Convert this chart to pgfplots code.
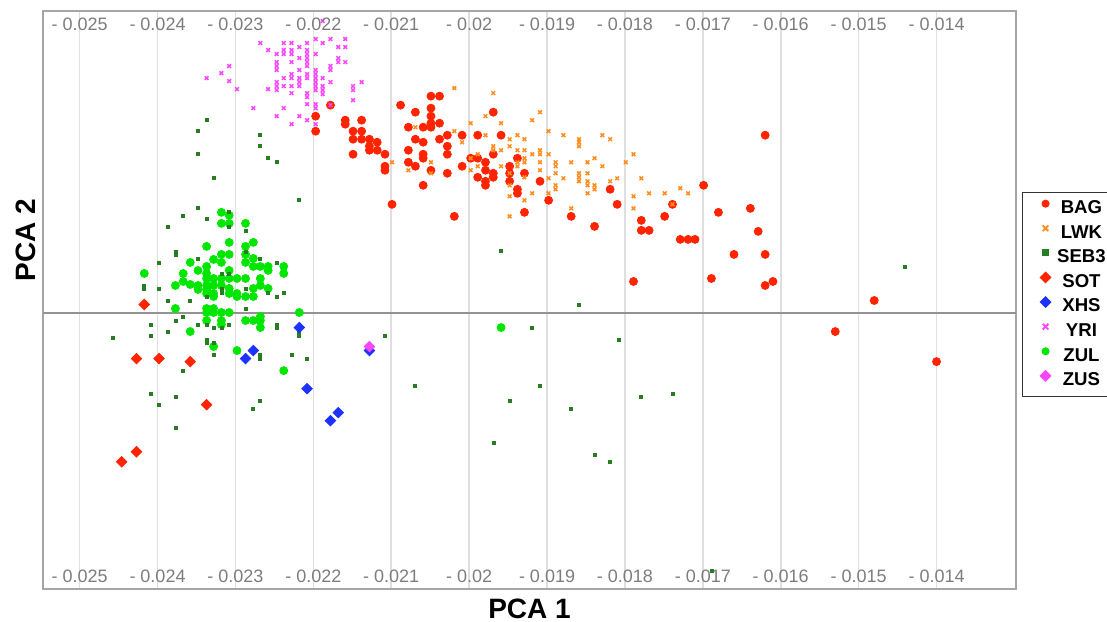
\documentclass[border=0pt]{standalone}
\usepackage{fontspec}
\setmainfont{Liberation Sans}
\usepackage{pgfplots}
\pgfplotsset{compat=1.18}

\definecolor{bagred}{RGB}{255,35,0}
\definecolor{lwkorange}{RGB}{255,140,30}
\definecolor{sebgreen}{RGB}{40,125,35}
\definecolor{xhsblue}{RGB}{30,50,255}
\definecolor{yrimag}{RGB}{250,70,250}
\definecolor{zulgreen}{RGB}{0,230,0}
\definecolor{tickgray}{RGB}{125,125,125}

\pgfplotsset{
  pcabox/.style={
    at={(21.5pt,16pt)}, anchor=south west,
    scale only axis, width=486.5pt, height=289pt,
    xmin=-0.02547, xmax=-0.01298, ymin=-0.0276, ymax=0.0301,
    scaled x ticks=false, scaled y ticks=false,
    xtick={-0.025,-0.024,-0.023,-0.022,-0.021,-0.02,-0.019,-0.018,-0.017,-0.016,-0.015,-0.014},
    xticklabels={- 0.025,- 0.024,- 0.023,- 0.022,- 0.021,- 0.02,- 0.019,- 0.018,- 0.017,- 0.016,- 0.015,- 0.014},
    ytick=\empty,
    major tick length=0pt,
    tick style={draw=none},
    xticklabel style={font=\fontsize{9}{10}\selectfont, text=tickgray, anchor=base},
  },
  dots/.style={only marks, forget plot},
}

\begin{document}
\begin{tikzpicture}
\useasboundingbox (0,0) rectangle (553.5pt,310.5pt);

\begin{axis}[
    pcabox,
    axis line style={draw=gray!70, line width=0.75pt},
    xmajorgrids=true,
    major grid style={draw=gray!25, line width=0.75pt},
    extra y ticks={0},
    extra y tick labels={},
    extra y tick style={grid=major, major grid style={draw=gray!85, line width=1pt}},
    xticklabel style={yshift=3.5pt},
    xlabel={PCA 1},
    ylabel={PCA 2},
    label style={font=\fontsize{14}{16}\selectfont\bfseries},
    xlabel style={at={(axis description cs:0.5,-0.0502)}, anchor=base},
    ylabel style={at={(axis description cs:-0.0072,0.604)}, rotate=0, anchor=base},
    legend style={at={(1.00617,0.6874)}, anchor=north west,
      draw=black!80, line width=0.5pt, fill=white,
      inner xsep=8.9pt, inner ysep=2pt, row sep=0pt, column sep=1.2pt,
      font=\fontsize{9.3}{11}\selectfont\bfseries,
      nodes={inner sep=2pt, text height=6.7pt, text depth=1.6pt}},
    legend cell align=center,
    legend image code/.code={\draw[#1] plot coordinates {(0pt,2.4pt)};},
  ]

% BAG
\addplot[dots, mark=*, mark size=2pt, mark options={draw=bagred, fill=bagred}] coordinates {
(-0.02197,0.0196) (-0.02197,0.0181) (-0.02178,0.0207) (-0.02159,0.0192) (-0.02159,0.0188)
(-0.02138,0.0192) (-0.02149,0.0181) (-0.02138,0.0181) (-0.02149,0.0173) (-0.02138,0.0173)
(-0.02128,0.0173) (-0.02128,0.0166) (-0.02128,0.0162) (-0.02118,0.0170) (-0.02118,0.0162)
(-0.02108,0.0158) (-0.02108,0.0146) (-0.02108,0.0142) (-0.02149,0.0158) (-0.02099,0.0108)
(-0.02088,0.0207) (-0.02069,0.0200) (-0.02049,0.0216) (-0.02038,0.0216) (-0.02049,0.0204)
(-0.02049,0.0196) (-0.02049,0.0189) (-0.02049,0.0185) (-0.02059,0.0185) (-0.02038,0.0189)
(-0.02078,0.0185) (-0.02069,0.0173) (-0.02059,0.0170) (-0.02038,0.0173) (-0.02028,0.0177)
(-0.02028,0.0166) (-0.02028,0.0158) (-0.02078,0.0162) (-0.02059,0.0158) (-0.02059,0.0154)
(-0.02078,0.0150) (-0.02069,0.0146) (-0.02049,0.0142) (-0.02028,0.0139) (-0.02059,0.0127)
(-0.02019,0.0096) (-0.02009,0.0177) (-0.02009,0.0146) (-0.01998,0.0154) (-0.01989,0.0177)
(-0.01989,0.0154) (-0.01989,0.0135) (-0.01979,0.0150) (-0.01979,0.0142) (-0.01979,0.0131)
(-0.01979,0.0127) (-0.01969,0.0200) (-0.01959,0.0177) (-0.01969,0.0158) (-0.01969,0.0139)
(-0.01969,0.0135) (-0.01948,0.0146) (-0.01948,0.0139) (-0.01948,0.0131) (-0.01938,0.0123)
(-0.01938,0.0119) (-0.01929,0.0139) (-0.01929,0.0100) (-0.01938,0.0154) (-0.01909,0.0131)
(-0.01898,0.0112) (-0.01869,0.0096) (-0.01839,0.0086) (-0.01819,0.0123) (-0.01810,0.0108)
(-0.01779,0.0092) (-0.01779,0.0082) (-0.01769,0.0082) (-0.01749,0.0096) (-0.01739,0.0108)
(-0.01699,0.0127) (-0.01680,0.0100) (-0.01620,0.0177) (-0.01789,0.0031) (-0.01729,0.0073)
(-0.01719,0.0073) (-0.01710,0.0073) (-0.01689,0.0034) (-0.01660,0.0058) (-0.01639,0.0104)
(-0.01629,0.0081) (-0.01620,0.0058) (-0.01620,0.0027) (-0.01610,0.0031) (-0.01480,0.0012)
(-0.01530,-0.0019) (-0.01400,-0.0049)
};

% ZUL
\addplot[dots, mark=*, mark size=2pt, mark options={draw=zulgreen, fill=zulgreen}] coordinates {
(-0.02318,0.0100) (-0.02308,0.0097) (-0.02318,0.0089) (-0.02308,0.0089) (-0.02287,0.0089)
(-0.02308,0.0070) (-0.02337,0.0066) (-0.02287,0.0066) (-0.02277,0.0070) (-0.02318,0.0058)
(-0.02308,0.0058) (-0.02328,0.0053) (-0.02318,0.0050) (-0.02287,0.0058) (-0.02287,0.0050)
(-0.02277,0.0054) (-0.02277,0.0046) (-0.02268,0.0046) (-0.02258,0.0046) (-0.02258,0.0042)
(-0.02238,0.0046) (-0.02238,0.0039) (-0.02358,0.0050) (-0.02348,0.0042) (-0.02337,0.0046)
(-0.02337,0.0039) (-0.02367,0.0039) (-0.02367,0.0031) (-0.02358,0.0028) (-0.02348,0.0027)
(-0.02348,0.0023) (-0.02337,0.0034) (-0.02337,0.0027) (-0.02337,0.0023) (-0.02337,0.0019)
(-0.02328,0.0034) (-0.02318,0.0034) (-0.02308,0.0034) (-0.02298,0.0034) (-0.02287,0.0034)
(-0.02308,0.0042) (-0.02268,0.0034) (-0.02268,0.0027) (-0.02258,0.0024) (-0.02328,0.0027)
(-0.02328,0.0019) (-0.02328,0.0016) (-0.02318,0.0027) (-0.02308,0.0024) (-0.02308,0.0019)
(-0.02298,0.0019) (-0.02298,0.0016) (-0.02287,0.0016) (-0.02277,0.0024) (-0.02277,0.0016)
(-0.02377,0.0027) (-0.02417,0.0039) (-0.02377,0.0004) (-0.02337,0.0004) (-0.02337,0.0000)
(-0.02328,0.0004) (-0.02328,0.0000) (-0.02318,0.0000) (-0.02308,0.0000) (-0.02358,-0.0019)
(-0.02337,-0.0008) (-0.02318,-0.0008) (-0.02318,-0.0012) (-0.02287,-0.0008) (-0.02277,-0.0008)
(-0.02268,-0.0004) (-0.02268,-0.0008) (-0.02268,-0.0015) (-0.02218,0.0000) (-0.02328,-0.0034)
(-0.02298,-0.0038) (-0.02238,-0.0058) (-0.01959,-0.0015)
};

% LWK
\addplot[dots, mark=x, mark size=1.3pt, mark options={draw=lwkorange, line width=0.75pt}] coordinates {
(-0.02019,0.0224) (-0.01969,0.0219) (-0.02069,0.0185) (-0.01998,0.0189) (-0.02019,0.0181)
(-0.02009,0.0170) (-0.01979,0.0196) (-0.01959,0.0189) (-0.01979,0.0177) (-0.01969,0.0166)
(-0.01969,0.0162) (-0.01959,0.0162) (-0.01948,0.0173) (-0.01948,0.0166) (-0.01938,0.0177)
(-0.01929,0.0173) (-0.01938,0.0162) (-0.01929,0.0162) (-0.01929,0.0154) (-0.01929,0.0150)
(-0.01938,0.0150) (-0.01938,0.0146) (-0.01959,0.0146) (-0.01989,0.0158) (-0.01989,0.0146)
(-0.01998,0.0142) (-0.02049,0.0150) (-0.02049,0.0139) (-0.02078,0.0142) (-0.02099,0.0150)
(-0.01948,0.0127) (-0.01948,0.0116) (-0.01929,0.0112) (-0.01948,0.0096) (-0.01998,0.0154)
(-0.01909,0.0200) (-0.01919,0.0192) (-0.01948,0.0139) (-0.01929,0.0135) (-0.01919,0.0158)
(-0.01919,0.0119) (-0.01909,0.0162) (-0.01909,0.0158) (-0.01909,0.0150) (-0.01909,0.0142)
(-0.01898,0.0181) (-0.01898,0.0158) (-0.01898,0.0134) (-0.01898,0.0119) (-0.01889,0.0150)
(-0.01889,0.0146) (-0.01889,0.0139) (-0.01889,0.0127) (-0.01889,0.0123) (-0.01879,0.0177)
(-0.01879,0.0134) (-0.01869,0.0150) (-0.01869,0.0104) (-0.01859,0.0173) (-0.01859,0.0170)
(-0.01859,0.0166) (-0.01859,0.0139) (-0.01859,0.0135) (-0.01859,0.0131) (-0.01848,0.0150)
(-0.01848,0.0139) (-0.01848,0.0131) (-0.01848,0.0127) (-0.01848,0.0119) (-0.01839,0.0154)
(-0.01839,0.0127) (-0.01839,0.0123) (-0.01829,0.0177) (-0.01829,0.0146) (-0.01819,0.0173)
(-0.01819,0.0131) (-0.01810,0.0134) (-0.01799,0.0150) (-0.01789,0.0158) (-0.01789,0.0116)
(-0.01789,0.0104) (-0.01779,0.0134) (-0.01769,0.0119) (-0.01749,0.0119) (-0.01739,0.0108)
(-0.01729,0.0124) (-0.01719,0.0119)
};

% SEB3
\addplot[dots, mark=square*, mark size=0.75pt, mark options={draw=sebgreen, fill=sebgreen}] coordinates {
(-0.02337,0.0192) (-0.02348,0.0181) (-0.02348,0.0158) (-0.02328,0.0134) (-0.02348,0.0104)
(-0.02367,0.0096) (-0.02308,0.0100) (-0.02337,0.0093) (-0.02268,0.0177) (-0.02268,0.0166)
(-0.02258,0.0154) (-0.02247,0.0150) (-0.02218,0.0112) (-0.02387,0.0085) (-0.02308,0.0085)
(-0.02287,0.0081) (-0.02377,0.0061) (-0.02377,0.0058) (-0.02398,0.0050) (-0.02348,0.0054)
(-0.02287,0.0061) (-0.02268,0.0054) (-0.02247,0.0050) (-0.02417,0.0027) (-0.02417,0.0024)
(-0.02398,0.0024) (-0.02318,0.0039) (-0.02308,0.0039) (-0.02287,0.0024) (-0.02258,0.0020)
(-0.02247,0.0016) (-0.02238,0.0020) (-0.02337,0.0016) (-0.02318,0.0024) (-0.02318,0.0020)
(-0.02387,0.0012) (-0.02358,0.0012) (-0.02287,0.0004) (-0.02377,-0.0008) (-0.02367,-0.0004)
(-0.02408,-0.0012) (-0.02408,-0.0023) (-0.02387,-0.0019) (-0.02348,-0.0012) (-0.02337,-0.0012)
(-0.02328,-0.0015) (-0.02318,-0.0015) (-0.02308,-0.0012) (-0.02247,-0.0012) (-0.02247,-0.0015)
(-0.02218,-0.0019) (-0.02218,-0.0023) (-0.02457,-0.0025) (-0.02337,-0.0027) (-0.02337,-0.0030)
(-0.02328,-0.0030) (-0.02328,-0.0042) (-0.02268,-0.0042) (-0.02268,-0.0046) (-0.02228,-0.0042)
(-0.02208,-0.0046) (-0.02367,-0.0058) (-0.02408,-0.0081) (-0.02398,-0.0092) (-0.02377,-0.0084)
(-0.02377,-0.0115) (-0.02268,-0.0088) (-0.02277,-0.0096) (-0.02108,-0.0023) (-0.02069,-0.0073)
(-0.01919,-0.0015) (-0.01948,-0.0088) (-0.01909,-0.0073) (-0.01869,-0.0096) (-0.01968,-0.0130)
(-0.01859,0.0008) (-0.01808,-0.0027) (-0.01839,-0.0142) (-0.01819,-0.0149) (-0.01779,-0.0084)
(-0.01739,-0.0081) (-0.01689,-0.0258) (-0.01440,0.0046) (-0.01959,0.0062)
};

% SOT
\addplot[dots, mark=square*, mark size=1.85pt, mark options={rotate=45, draw=bagred, fill=bagred}] coordinates {
(-0.02417,0.0008) (-0.02427,-0.0046) (-0.02398,-0.0046) (-0.02358,-0.0049) (-0.02337,-0.0092)
(-0.02427,-0.0139) (-0.02446,-0.0149)
};

% XHS
\addplot[dots, mark=square*, mark size=1.85pt, mark options={rotate=45, draw=xhsblue, fill=xhsblue}] coordinates {
(-0.02218,-0.0015) (-0.02287,-0.0046) (-0.02277,-0.0038) (-0.02208,-0.0076) (-0.02168,-0.0100)
(-0.02178,-0.0108) (-0.02128,-0.0038)
};

% YRI
\addplot[dots, mark=x, mark size=1.3pt, mark options={draw=yrimag, line width=0.75pt}] coordinates {
(-0.02337,0.0234) (-0.02318,0.0239) (-0.02308,0.0246) (-0.02308,0.0231) (-0.02298,0.0223)
(-0.02268,0.0269) (-0.02258,0.0262) (-0.02247,0.0258) (-0.02247,0.0250) (-0.02247,0.0246)
(-0.02247,0.0242) (-0.02247,0.0230) (-0.02247,0.0226) (-0.02247,0.0222) (-0.02258,0.0223)
(-0.02277,0.0204) (-0.02247,0.0196) (-0.02238,0.0269) (-0.02238,0.0262) (-0.02238,0.0258)
(-0.02238,0.0234) (-0.02238,0.0226) (-0.02238,0.0204) (-0.02228,0.0269) (-0.02228,0.0262)
(-0.02228,0.0258) (-0.02228,0.0250) (-0.02228,0.0238) (-0.02228,0.0234) (-0.02228,0.0226)
(-0.02228,0.0219) (-0.02228,0.0188) (-0.02218,0.0265) (-0.02218,0.0254) (-0.02218,0.0242)
(-0.02218,0.0234) (-0.02218,0.0230) (-0.02218,0.0226) (-0.02218,0.0196) (-0.02208,0.0269)
(-0.02208,0.0262) (-0.02208,0.0258) (-0.02208,0.0254) (-0.02208,0.0250) (-0.02208,0.0246)
(-0.02208,0.0238) (-0.02208,0.0234) (-0.02208,0.0219) (-0.02208,0.0215) (-0.02208,0.0208)
(-0.02208,0.0192) (-0.02197,0.0273) (-0.02197,0.0258) (-0.02197,0.0242) (-0.02197,0.0238)
(-0.02197,0.0234) (-0.02197,0.0230) (-0.02197,0.0226) (-0.02197,0.0222) (-0.02197,0.0208)
(-0.02197,0.0204) (-0.02197,0.0188) (-0.02188,0.0291) (-0.02188,0.0269) (-0.02188,0.0234)
(-0.02188,0.0226) (-0.02188,0.0222) (-0.02188,0.0218) (-0.02178,0.0273) (-0.02178,0.0246)
(-0.02178,0.0242) (-0.02178,0.0230) (-0.02178,0.0207) (-0.02168,0.0265) (-0.02168,0.0254)
(-0.02168,0.0250) (-0.02159,0.0273) (-0.02159,0.0265) (-0.02159,0.0250) (-0.02149,0.0226)
(-0.02149,0.0222) (-0.02149,0.0212) (-0.02138,0.0230)
};

% ZUS
\addplot[dots, mark=square*, mark size=1.85pt, mark options={rotate=45, draw=yrimag, fill=yrimag}] coordinates {
(-0.02128,-0.0034)
};

\addlegendimage{mark=*, mark size=1.75pt, mark options={draw=bagred, fill=bagred}}
\addlegendentry{BAG}
\addlegendimage{mark=x, mark size=2pt, mark options={draw=lwkorange, line width=0.9pt}}
\addlegendentry{LWK}
\addlegendimage{mark=square*, mark size=1.5pt, mark options={draw=sebgreen, fill=sebgreen}}
\addlegendentry{SEB3}
\addlegendimage{mark=square*, mark size=1.85pt, mark options={rotate=45, draw=bagred, fill=bagred}}
\addlegendentry{SOT}
\addlegendimage{mark=square*, mark size=1.85pt, mark options={rotate=45, draw=xhsblue, fill=xhsblue}}
\addlegendentry{XHS}
\addlegendimage{mark=x, mark size=2pt, mark options={draw=yrimag, line width=0.9pt}}
\addlegendentry{YRI}
\addlegendimage{mark=*, mark size=1.75pt, mark options={draw=zulgreen, fill=zulgreen}}
\addlegendentry{ZUL}
\addlegendimage{mark=square*, mark size=1.85pt, mark options={rotate=45, draw=yrimag, fill=yrimag}}
\addlegendentry{ZUS}
\end{axis}

% top row of tick labels, inside the frame
\begin{axis}[
    pcabox,
    axis line style={draw=none},
    xtick pos=right,
    xticklabel pos=right,
    xticklabel style={yshift=-10pt},
  ]
\end{axis}
\end{tikzpicture}
\end{document}
